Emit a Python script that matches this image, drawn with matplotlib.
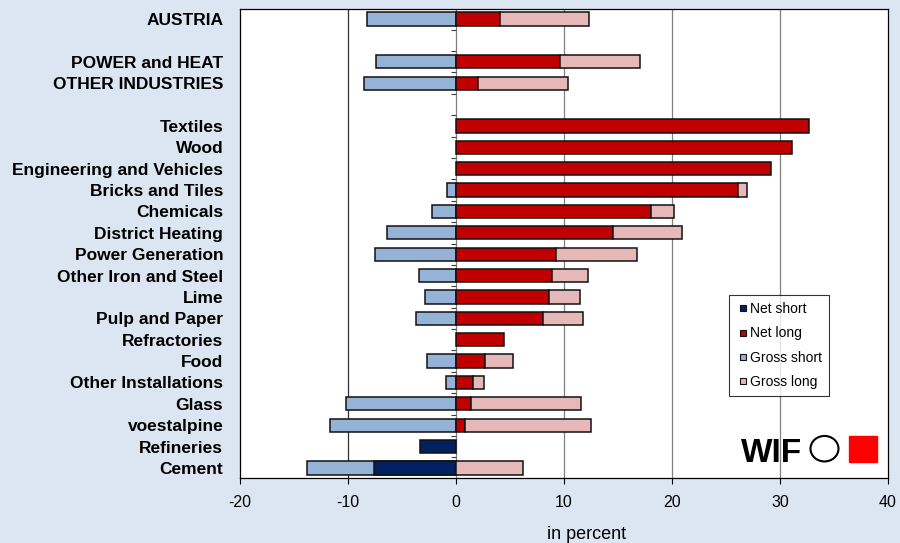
import numpy as np
import matplotlib
matplotlib.use('Agg')
import matplotlib.pyplot as plt
from matplotlib.patches import Rectangle, Ellipse
from matplotlib.lines import Line2D

plt.rcParams['font.family'] = ['Liberation Sans', 'DejaVu Sans']

# rows from top to bottom, '' = empty spacer row
categories = ['AUSTRIA', '', 'POWER and HEAT', 'OTHER INDUSTRIES', '',
              'Textiles', 'Wood', 'Engineering and Vehicles', 'Bricks and Tiles',
              'Chemicals', 'District Heating', 'Power Generation',
              'Other Iron and Steel', 'Lime', 'Pulp and Paper', 'Refractories',
              'Food', 'Other Installations', 'Glass', 'voestalpine',
              'Refineries', 'Cement']
# in percent; gross values are the outer end of the bar
net_short = [0, 0, 0, 0, 0, 0, 0, 0, 0, 0, 0, 0, 0, 0, 0, 0, 0, 0, 0, 0, 3.3, 7.6]
net_long = [4.1, 0, 9.6, 2.0, 0, 32.7, 31.1, 29.2, 26.1, 18.1, 14.5, 9.3,
            8.9, 8.6, 8.1, 4.4, 2.7, 1.6, 1.4, 0.8, 0, 0]
gross_short = [8.2, 0, 7.4, 8.5, 0, 0, 0, 0, 0.8, 2.2, 6.4, 7.5,
               3.4, 2.9, 3.7, 0, 2.7, 0.9, 10.2, 11.7, 0, 13.8]
gross_long = [12.3, 0, 17.0, 10.4, 0, 0, 0, 0, 26.9, 20.2, 20.9, 16.8,
              12.2, 11.5, 11.8, 0, 5.3, 2.6, 11.6, 12.5, 0, 6.2]

c_net_short = '#002060'
c_net_long = '#C00000'
c_gross_short = '#95B3D7'
c_gross_long = '#E6B9B8'
bg = '#DCE6F2'

fig = plt.figure(figsize=(9, 5.43), dpi=100, facecolor=bg)
ax = fig.add_axes([240/900, 1-478/543, 648/900, 469/543])
ax.set_facecolor('white')

y = np.arange(len(categories))
h = 0.62
ns = np.array(net_short)
nl = np.array(net_long)
gs = np.array(gross_short)
gl = np.array(gross_long)
kw = dict(height=h, edgecolor='#111111', linewidth=1.1, zorder=3)

m = gs > 0
ax.barh(y[m], -gs[m], color=c_gross_short, **kw)
m = ns > 0
ax.barh(y[m], -ns[m], color=c_net_short, **kw)
m = nl > 0
ax.barh(y[m], nl[m], color=c_net_long, **kw)
m = gl > 0
ax.barh(y[m], gl[m] - nl[m], left=nl[m], color=c_gross_long, **kw)

ax.set_xlim(-20, 40)
ax.set_ylim(len(categories) - 0.53, -0.47)
ax.set_xticks(np.arange(-20, 41, 10))
ax.set_xticklabels([str(v) for v in range(-20, 41, 10)], fontsize=11.5)
ax.tick_params(axis='x', direction='out', length=4, width=0.8, pad=8)
ax.set_yticks(y)
ax.set_yticklabels(categories, fontsize=12.5, fontweight='bold')
ax.tick_params(axis='y', length=0, pad=12)
ax.set_xlabel('in percent', fontsize=13, labelpad=12, x=(587-240)/648)

for v in (-10, 10, 20, 30):
    ax.axvline(v, color='#303030' if v < 0 else '#808080', lw=0.9, zorder=1)
ax.axvline(0, color='#808080', lw=0.9, zorder=2)
# small category ticks on the zero line
ax.hlines(y[:-1] + 0.5, -0.5, 0, color='#404040', lw=0.8, zorder=2)

for s in ax.spines.values():
    s.set_linewidth(0.9)
    s.set_color('black')

order = ['Net short', 'Net long', 'Gross short', 'Gross long']
cols = [c_net_short, c_net_long, c_gross_short, c_gross_long]
handles = [Line2D([], [], ls='none', marker='s', markersize=4, color=c,
                  markeredgecolor='#111111', markeredgewidth=0.8) for c in cols]
leg = ax.legend(handles, order, loc='upper left',
                bbox_to_anchor=((729-240)/648, (478-295)/469), frameon=True,
                prop={'size': 10}, fancybox=False, edgecolor='black',
                handlelength=1.0, handletextpad=0.0, labelspacing=0.75,
                borderpad=0.5, borderaxespad=0)
leg.get_frame().set_linewidth(0.8)

# WIFO logo
fig.text(741/900, 1-461.5/543, 'WIF', fontsize=24, fontweight='bold',
         color='black', ha='left', va='baseline')
fig.patches.append(Ellipse((824.5/900, 1-448.7/543), 28/900, 25.5/543,
                           transform=fig.transFigure, fill=False,
                           edgecolor='black', lw=1.5))
fig.patches.append(Rectangle((849/900, 1-462/543), 28/900, 26.5/543,
                             transform=fig.transFigure, color='#FF0000'))

fig.savefig('out.png', dpi=100, facecolor=bg)
